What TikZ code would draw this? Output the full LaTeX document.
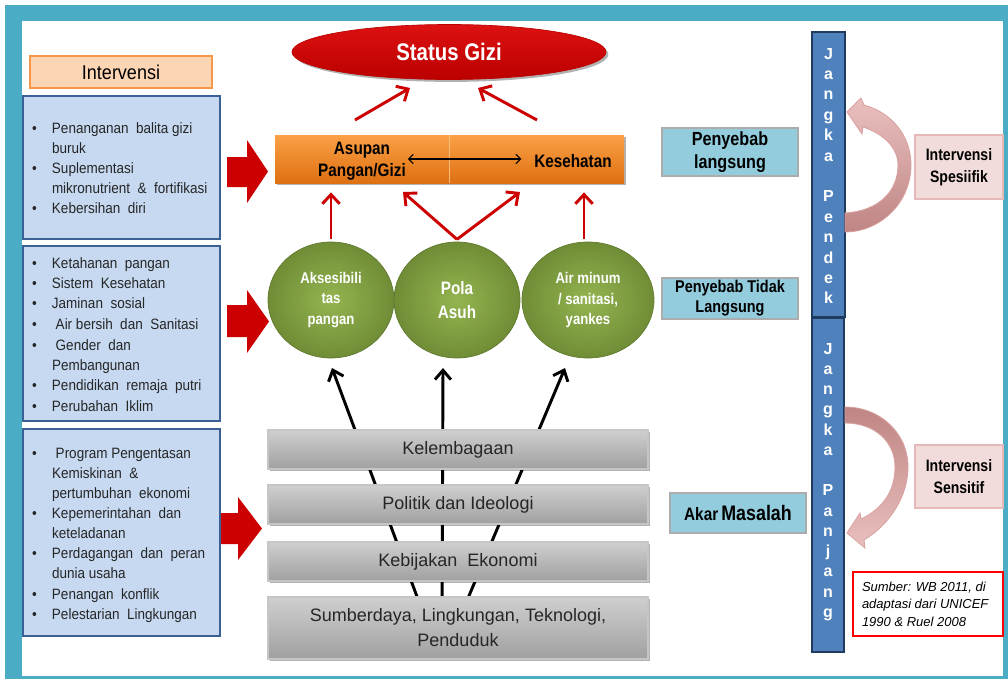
\documentclass[tikz,border=0pt]{standalone}
\usepackage{fontspec}
\setmainfont{Liberation Sans}
\newfontfamily\nar[FakeStretch=0.9]{Liberation Sans}
\newfontfamily\narb[FakeStretch=0.85]{Liberation Sans}
\usetikzlibrary{arrows.meta,shapes.geometric,shadows,calc}
\definecolor{tealc}{HTML}{4BACC6}
\definecolor{listfill}{HTML}{C6D9F1}
\definecolor{listdraw}{HTML}{3A6096}
\definecolor{peach}{HTML}{FCD5B5}
\definecolor{orangeB}{HTML}{F79646}
\definecolor{redc}{HTML}{CC0000}
\definecolor{redT}{HTML}{DD1111}
\definecolor{redB}{HTML}{BB0000}
\definecolor{orT}{HTML}{FBA045}
\definecolor{orB}{HTML}{DD7012}
\definecolor{gI}{HTML}{94B450}
\definecolor{gO}{HTML}{708D36}
\definecolor{gT}{HTML}{CFCFCF}
\definecolor{gB}{HTML}{A0A0A0}
\definecolor{cyanc}{HTML}{93CDDD}
\definecolor{barc}{HTML}{4F81BD}
\definecolor{bard}{HTML}{1F3B5E}
\definecolor{pinkfill}{HTML}{F2DCDB}
\definecolor{pinkdraw}{HTML}{E6B9B8}
\definecolor{pA}{HTML}{E9C0BF}
\definecolor{pB}{HTML}{BF8584}
\definecolor{pE}{HTML}{D9A09F}
\newcommand\mybul{\makebox[15pt][l]{\textbullet}}
\newcommand\mynob{\hspace*{15pt}}
\begin{document}
\begin{tikzpicture}[x=0.75pt,y=-0.75pt,
  every node/.style={inner sep=0pt,outer sep=0pt},
  shad/.style={drop shadow={shadow xshift=1.8pt,shadow yshift=-1.8pt,opacity=0.3,fill=black}},
  listbox/.style={draw=listdraw,line width=1.5pt,fill=listfill,minimum width=147.75pt},
  lt/.style={anchor=base west,font=\nar\fontsize{11.25}{13.5}\selectfont,text=black!85},
  otext/.style={align=center,font=\narb\bfseries\fontsize{13.5}{16.5}\selectfont,text=black},
  circ/.style={ellipse,minimum width=94.5pt,minimum height=87pt,inner color=gI,outer color=gO,
    draw=gO!85!black,line width=0.5pt,text=white,align=center,
    font=\narb\bfseries\fontsize{11.6}{15.4}\selectfont},
  gbox/.style={draw=gray!45,line width=0.8pt,top color=gT,bottom color=gB,minimum width=285pt,
    shad,align=center,text=black!85,font=\fontsize{13.5}{18.75}\selectfont},
  cbox/.style={draw=gray!65,line width=2pt,fill=cyanc,minimum width=102pt,align=center,text=black},
  pbox/.style={draw=pinkdraw,line width=1.5pt,fill=pinkfill,minimum width=66pt,align=center,
    text=black,font=\narb\bfseries\fontsize{12.4}{16.5}\selectfont},
  bar/.style={draw=bard,line width=1.5pt,fill=barc},
  jl/.style={anchor=base,text=white,font=\bfseries\fontsize{12}{13}\selectfont},
  rarr/.style={draw=redc,line width=2.2pt,-{Straight Barb[length=7pt,width=13pt]}},
  karr/.style={draw=black,line width=2.2pt,-{Straight Barb[length=7pt,width=12pt]}},
  blockarr/.style={fill=redc}
]
\useasboundingbox (0,0) rectangle (1008,679);
% frame
\fill[tealc] (5,5) rectangle (1008,679);
\fill[white] (22,21) rectangle (1003,676);

% left column
\node[draw=orangeB,fill=peach,line width=1.5pt,minimum width=136.5pt,minimum height=24pt,
  font=\nar\fontsize{15}{18}\selectfont] (iv) at (121,72) {Intervensi};
\node[listbox,minimum height=107.25pt] (box1) at (121.5,167.5) {};
\node[listbox,minimum height=131.25pt] (box2) at (121.5,333.5) {};
\node[listbox,minimum height=155.25pt] (box3) at (121.5,532.5) {};

\foreach \y/\t [count=\i] in {
  128/\mybul Penanganan\ \ balita gizi,
  148/\mynob buruk,
  168/\mybul Suplementasi,
  188/\mynob mikronutrient \ \& \ fortifikasi,
  208/\mybul Kebersihan\ \ diri}
  \node[lt] (la\i) at (32,\y+5) {\t};
\foreach \y/\t [count=\i] in {
  263/\mybul Ketahanan\ \ pangan,
  283/\mybul Sistem\ \ Kesehatan,
  303/\mybul Jaminan\ \ sosial,
  324/\mybul\ Air bersih\ \ dan\ \ Sanitasi,
  345/\mybul\ Gender\ \ dan,
  365/\mynob Pembangunan,
  385/\mybul Pendidikan\ \ remaja\ \ putri,
  406/\mybul Perubahan\ \ Iklim}
  \node[lt] (lb\i) at (32,\y+5) {\t};
\foreach \y/\t [count=\i] in {
  453/\mybul\ Program Pengentasan,
  473/\mynob Kemiskinan\ \ \&,
  493/\mynob pertumbuhan\ \ ekonomi,
  513/\mybul Kepemerintahan\ \ dan,
  533/\mynob keteladanan,
  553/\mybul Perdagangan\ \ dan\ \ peran,
  573/\mynob dunia usaha,
  594/\mybul Penangan\ \ konflik,
  614/\mybul Pelestarian\ \ Lingkungan}
  \node[lt] (lc\i) at (32,\y+5) {\t};

% block arrows
\fill[blockarr] (227,157) -- (247,157) -- (247,140) -- (268,171.5) -- (247,203) -- (247,187) -- (227,187) -- cycle;
\fill[blockarr] (227,305) -- (247,305) -- (247,290) -- (269,321.5) -- (247,353) -- (247,337) -- (227,337) -- cycle;
\fill[blockarr] (221,513) -- (238,513) -- (238,497) -- (262,528.5) -- (238,560) -- (238,544) -- (221,544) -- cycle;

% top
\node[ellipse,top color=redT,bottom color=redB,draw=redB,line width=0.5pt,shad,
  minimum width=235.5pt,minimum height=41.25pt,text=white,
  font=\narb\bfseries\fontsize{18}{20}\selectfont] (sg) at (449,52) {Status Gizi};
\node[rectangle,top color=orT,bottom color=orB,minimum width=261.75pt,minimum height=36pt,shad] (asup) at (449.5,159) {};
\draw[orT!70!white,line width=0.6pt] (asup.north) -- (asup.south);
\node[otext] (asupt) at (362,161) {Asupan\\Pangan/Gizi};
\node[otext] (kes) at (573,161) {Kesehatan};
\draw[line width=0.8pt,{Straight Barb[length=3.5pt,width=7pt]}-{Straight Barb[length=3.5pt,width=7pt]}]
  ($(asupt.east)+(2,-2)$) -- ($(kes.west)+(-13,-2)$);

\coordinate (ta) at (355,120);
\coordinate (tb) at (537,120);
\coordinate (sga) at (410,88);
\coordinate (sgb) at (478,88);
\draw[rarr] (ta) -- (sga);
\draw[rarr] (tb) -- (sgb);

% circles
\node[circ] (c1) at (331,300) {Aksesibili\\tas\\pangan};
\node[circ,font=\narb\bfseries\fontsize{13.5}{18}\selectfont] (c2) at (457,300) {Pola\\Asuh};
\node[circ,minimum width=99pt] (c3) at (588,300) {Air minum\\/ sanitasi,\\yankes};

\coordinate (pa1) at (403,192);
\coordinate (pa2) at (520,192);
\draw[rarr] ([yshift=2pt]c1.north) -- ([yshift=-7pt]c1.north |- asup.south);
\draw[rarr] ([yshift=2pt]c2.north) -- (pa1);
\draw[rarr] ([yshift=2pt]c2.north) -- (pa2);
\draw[rarr] ([xshift=-3pt,yshift=2pt]c3.north) -- ([xshift=-3pt,yshift=-7pt]c3.north |- asup.south);

% black arrows (behind gray boxes)
\coordinate (b1) at (422,610);
\coordinate (b2) at (442,610);
\coordinate (b3) at (463,610);
\coordinate (k1) at (332,368);
\coordinate (k2) at (443,368);
\coordinate (k3) at (565,368);
\draw[karr] (b1) -- (k1);
\draw[karr] (b2) -- (k2);
\draw[karr] (b3) -- (k3);

% gray boxes
\node[gbox,minimum height=29.25pt] (kel) at (458,449.5) {Kelembagaan};
\node[gbox,minimum height=29.25pt] (pol) at (458,504.5) {Politik dan Ideologi};
\node[gbox,minimum height=29.25pt] (keb) at (458,561.5) {Kebijakan\ \ Ekonomi};
\node[gbox,minimum height=46.5pt] (sum) at (458,628) {Sumberdaya, Lingkungan, Teknologi,\\Penduduk};

% cyan labels
\node[cbox,minimum height=36pt,font=\narb\bfseries\fontsize{14.25}{17.25}\selectfont] (pl) at (730,152) {Penyebab\\langsung};
\node[cbox,minimum height=30.75pt,font=\narb\bfseries\fontsize{12.75}{15}\selectfont] (ptl) at (730,298.5) {Penyebab Tidak\\Langsung};
\node[cbox,minimum height=30pt] (am) at (738,513) {\narb\bfseries{\fontsize{13.5}{16}\selectfont Akar} {\fontsize{15.75}{18}\selectfont Masalah}};

% bars
\node[bar,minimum width=24.75pt,minimum height=213.75pt] (jpd) at (828.5,174.5) {};
\node[bar,minimum width=24pt,minimum height=250.5pt] (jpj) at (828,485) {};
\foreach \l/\y [count=\i] in {J/59,a/79.4,n/99.8,g/120.2,k/140.6,a/161,P/201.8,e/222.2,n/242.6,d/263,e/283.4,k/303.8}
  \node[jl] (jp\i) at (828.5,\y) {\l};
\foreach \l/\y [count=\i] in {J/354,a/374.3,n/394.5,g/414.8,k/435,a/455.3,P/495.8,a/516,n/536.3,j/556.5,a/576.8,n/597,g/617.3}
  \node[jl] (jq\i) at (828,\y) {\l};

% curved pink arrows
\path[top color=pA,bottom color=pB,draw=pE,line width=0.6pt]
  (845,213) .. controls (878,211) and (898,192) .. (898,165)
  .. controls (898,148) and (884,134) .. (863,127) -- (862,134) -- (847,112) -- (861,98) -- (864,105)
  .. controls (893,113) and (911,137) .. (911,165)
  .. controls (911,203) and (880,232) .. (845,232) -- cycle;
\path[top color=pB,bottom color=pA,draw=pE,line width=0.6pt]
  (845,407) .. controls (880,407) and (908,433) .. (908,467)
  .. controls (908,497) and (889,525) .. (864,540) -- (865,548) -- (847,533) -- (860,513) -- (861,519)
  .. controls (884,508) and (895,490) .. (895,467)
  .. controls (895,442) and (875,423) .. (845,423) -- cycle;

% pink boxes
\node[pbox,minimum height=48pt] (isp) at (959,167) {Intervensi\\Spesiifik};
\node[pbox,minimum height=47.25pt] (isn) at (959,476.5) {Intervensi\\Sensitif};

% source
\node[draw=red,line width=1.2pt,fill=white,minimum width=112.5pt,minimum height=48pt] (srcbox) at (928,604) {};
\node[anchor=west,align=left,text=black,font=\itshape\fontsize{9.75}{13.1}\selectfont] (src) at (862,604)
  {Sumber: WB 2011, di\\adaptasi dari UNICEF\\1990 \& Ruel 2008};
\end{tikzpicture}
\end{document}
